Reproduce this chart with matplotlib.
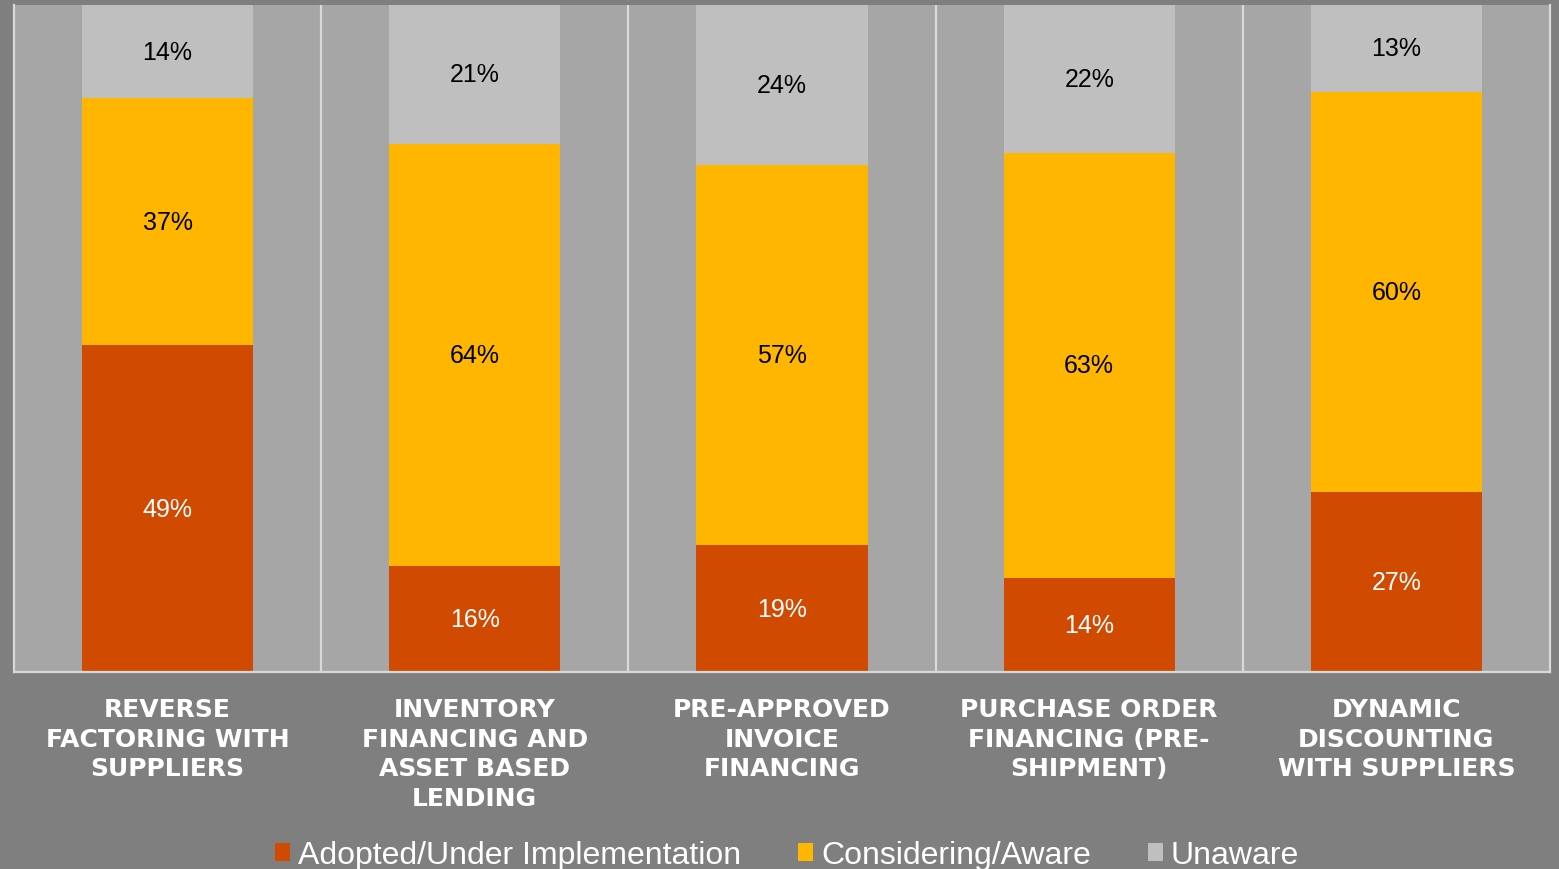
import matplotlib
matplotlib.use("Agg")
import matplotlib.pyplot as plt
import numpy as np

# Data (percent of respondents)
categories = [
    "REVERSE\nFACTORING WITH\nSUPPLIERS",
    "INVENTORY\nFINANCING AND\nASSET BASED\nLENDING",
    "PRE-APPROVED\nINVOICE\nFINANCING",
    "PURCHASE ORDER\nFINANCING (PRE-\nSHIPMENT)",
    "DYNAMIC\nDISCOUNTING\nWITH SUPPLIERS",
]
adopted = [49, 16, 19, 14, 27]
considering = [37, 64, 57, 63, 60]
unaware = [14, 21, 24, 22, 13]

series_names = ["Adopted/Under Implementation", "Considering/Aware", "Unaware"]
series_colors = ["#d04a02", "#ffb600", "#bfbfbf"]
label_colors = ["white", "black", "black"]

FIG_BG = "#7f7f7f"
AX_BG = "#a6a6a6"
RULE = "#d9d9d9"

plt.rcParams["font.family"] = ["Liberation Sans", "DejaVu Sans"]

fig = plt.figure(figsize=(15.59, 8.70), dpi=100, facecolor=FIG_BG)
ax = fig.add_axes([14 / 1559, 1 - 673 / 870, (1550 - 14) / 1559, (673 - 6) / 870])
ax.set_facecolor(AX_BG)

# 100% stacked: rounded labels don't always sum to 100, so scale each column
data = np.array([adopted, considering, unaware], dtype=float)
shares = data / data.sum(axis=0) * 100

x = np.arange(len(categories))
bottom = np.zeros(len(categories))
handles = []
for vals, raw, name, color, tcolor in zip(shares, data, series_names,
                                          series_colors, label_colors):
    bars = ax.bar(x, vals, width=0.557, bottom=bottom, color=color,
                  label=name, zorder=2)
    ax.bar_label(bars, labels=[f"{int(v)}%" for v in raw], label_type="center",
                 color=tcolor, fontsize=18)
    handles.append(bars)
    bottom += vals

# light separators between category groups
for b in np.arange(0.5, len(categories) - 0.5, 1.0):
    ax.axvline(b, color=RULE, lw=1.6, zorder=1)

ax.set_xlim(-0.5, len(categories) - 0.5)
ax.set_ylim(0, 100)
ax.set_yticks([])
ax.set_xticks(x)
ax.set_xticklabels(categories, color="white", fontsize=18, fontweight="bold",
                   family="DejaVu Sans", linespacing=1.3, ha="center", va="top")
ax.tick_params(axis="x", length=0, pad=18)

for side in ["left", "right", "bottom"]:
    ax.spines[side].set_color(RULE)
    ax.spines[side].set_linewidth(1.6)
ax.spines["top"].set_visible(False)

leg = fig.legend(handles=handles, labels=series_names, loc="center",
                 bbox_to_anchor=(0.505, 0.016), ncol=3, frameon=False,
                 fontsize=23, handlelength=0.47, handleheight=0.47,
                 handletextpad=0.25, columnspacing=1.78)
for t in leg.get_texts():
    t.set_color("white")

fig.savefig("out.png", dpi=100, facecolor=FIG_BG)
